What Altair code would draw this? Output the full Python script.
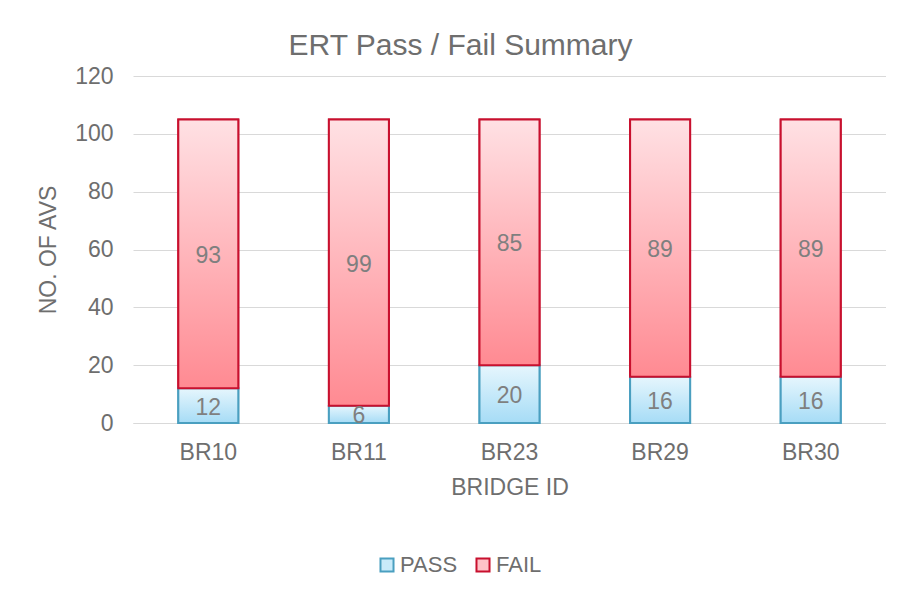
import altair as alt
import pandas as pd

bridges = ["BR10", "BR11", "BR23", "BR29", "BR30"]
pass_counts = [12, 6, 20, 16, 16]
fail_counts = [93, 99, 85, 89, 89]
statuses = ["PASS", "FAIL"]
y_ticks = [0, 20, 40, 60, 80, 100, 120]

rows = []
for b, p, f in zip(bridges, pass_counts, fail_counts):
    rows.append({"bridge": b, "status": "PASS", "order": 0, "count": p})
    rows.append({"bridge": b, "status": "FAIL", "order": 1, "count": f})
df = pd.DataFrame(rows)

FONT = "Liberation Sans"
AX = "#6E6E6E"

base = alt.Chart(df).transform_stack(
    stack="count", groupby=["bridge"], as_=["y0", "y1"],
    sort=[alt.SortField("order", order="ascending")]
).transform_calculate(ymid="(datum.y0 + datum.y1) / 2")

x_enc = alt.X("bridge:N", sort=bridges, title="BRIDGE ID",
              scale=alt.Scale(paddingInner=0.6, paddingOuter=0.3),
              axis=alt.Axis(labelAngle=0, labelFontSize=23, labelColor=AX,
                            titleFontSize=23, titleColor=AX, titleFontWeight="normal",
                            ticks=False, domainColor="#D9D9D9", labelPadding=18,
                            titlePadding=12, labelFont=FONT, titleFont=FONT))
y_enc = alt.Y("y0:Q", title="NO. OF AVS",
              scale=alt.Scale(domain=[0, 120], nice=False),
              axis=alt.Axis(values=y_ticks, labelFontSize=23, labelColor=AX,
                            titleFontSize=23, titleColor=AX, titleFontWeight="normal",
                            ticks=False, domain=False, gridColor="#D9D9D9",
                            labelPadding=20, titlePadding=14, labelFont=FONT,
                            titleFont=FONT))

legend_bars = base.mark_bar(size=60, strokeWidth=2).encode(
    x=x_enc, y=y_enc, y2="y1:Q",
    fill=alt.Fill("status:N", scale=alt.Scale(domain=statuses, range=["#C9EBFA", "#FFC2C8"]),
                  legend=alt.Legend(title=None, orient="none", direction="horizontal",
                                    legendX=243, legendY=478,
                                    labelFontSize=22, labelColor=AX, labelFont=FONT,
                                    symbolType="square", symbolSize=170,
                                    symbolStrokeWidth=2, columnPadding=14,
                                    labelOffset=2)),
    stroke=alt.Stroke("status:N", scale=alt.Scale(domain=statuses, range=["#4A9FC0", "#C8102E"]),
                      legend=None),
)

pass_grad = alt.Gradient(gradient="linear", x1=0, x2=0, y1=0, y2=1,
                         stops=[alt.GradientStop(color="#E6F6FD", offset=0),
                                alt.GradientStop(color="#A6DCF6", offset=1)])
fail_grad = alt.Gradient(gradient="linear", x1=0, x2=0, y1=0, y2=1,
                         stops=[alt.GradientStop(color="#FFE1E4", offset=0),
                                alt.GradientStop(color="#FF8A92", offset=1)])

pass_bars = base.transform_filter("datum.status == 'PASS'").mark_bar(
    size=60, fill=pass_grad, stroke="#4A9FC0", strokeWidth=2).encode(
    x=alt.X("bridge:N", sort=bridges), y=alt.Y("y0:Q"), y2="y1:Q")
fail_bars = base.transform_filter("datum.status == 'FAIL'").mark_bar(
    size=60, fill=fail_grad, stroke="#C8102E", strokeWidth=2).encode(
    x=alt.X("bridge:N", sort=bridges), y=alt.Y("y0:Q"), y2="y1:Q")

labels = base.mark_text(fontSize=23, color="#7F7F7F", font=FONT, baseline="middle", dy=2).encode(
    x=alt.X("bridge:N", sort=bridges), y=alt.Y("ymid:Q"), text="count:Q")

chart = alt.layer(legend_bars, pass_bars, fail_bars, labels).properties(
    width=753, height=347,
    title=alt.TitleParams("ERT Pass / Fail Summary", fontSize=30, color=AX,
                          font=FONT, fontWeight="normal", anchor="middle",
                          frame="group", dx=-49, offset=4),
    background="white",
    autosize=alt.AutoSizeParams(type="none"),
    padding={"left": 125, "top": 68, "right": 0, "bottom": 160},
).configure(font=FONT).configure_view(stroke=None)

chart.save("out.html", embed_options={"renderer": "svg", "actions": False})
